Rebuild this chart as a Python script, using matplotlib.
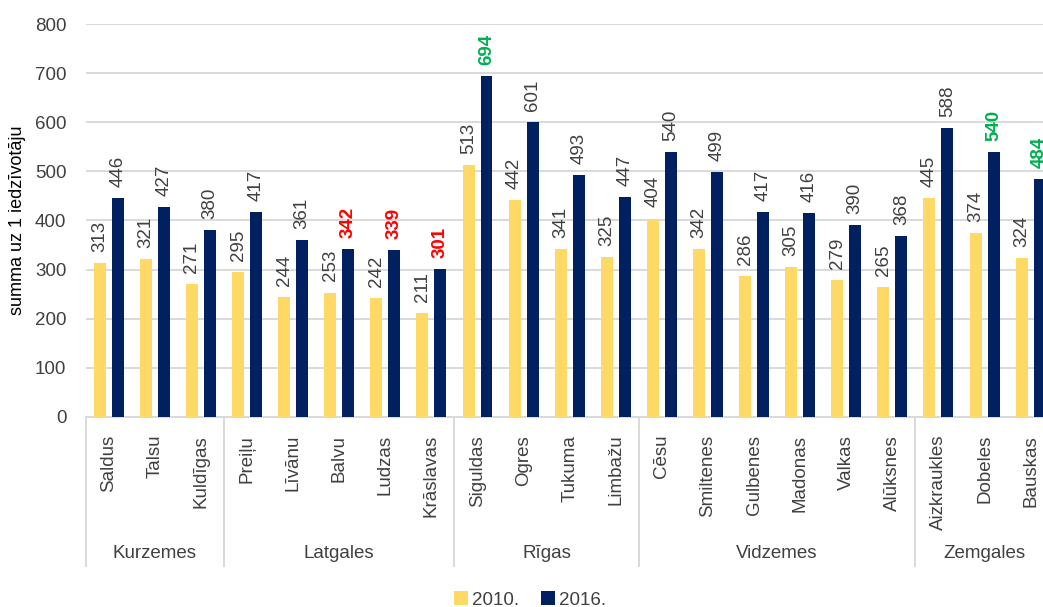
import matplotlib
matplotlib.use("Agg")
import matplotlib.pyplot as plt
import matplotlib.transforms as mtransforms
from matplotlib.patches import Patch
from matplotlib import font_manager

names = {f.name for f in font_manager.fontManager.ttflist}
fam = 'Liberation Sans Narrow' if 'Liberation Sans Narrow' in names else 'Liberation Sans'
narrow = fam == 'Liberation Sans Narrow'
plt.rcParams['font.family'] = [fam, 'DejaVu Sans']

categories = ["Saldus", "Talsu", "Kuldīgas", "Preiļu", "Līvānu", "Balvu", "Ludzas",
              "Krāslavas", "Siguldas", "Ogres", "Tukuma", "Limbažu", "Cēsu", "Smiltenes",
              "Gulbenes", "Madonas", "Valkas", "Alūksnes", "Aizkraukles", "Dobeles", "Bauskas"]
groups = ["Kurzemes", "Latgales", "Rīgas", "Vidzemes", "Zemgales"]
group_sizes = [3, 5, 4, 6, 3]
values_2010 = [313, 321, 271, 295, 244, 253, 242, 211, 513, 442, 341, 325, 404, 342,
               286, 305, 279, 265, 445, 374, 324]
values_2016 = [446, 427, 380, 417, 361, 342, 339, 301, 694, 601, 493, 447, 540, 499,
               417, 416, 390, 368, 588, 540, 484]
red_2016 = ["Balvu", "Ludzas", "Krāslavas"]
green_2016 = ["Siguldas", "Dobeles", "Bauskas"]
series_names = ["2010.", "2016."]
y_ticks = [0, 100, 200, 300, 400, 500, 600, 700, 800]
y_label = "summa uz 1 iedzīvotāju"

YELLOW = "#FFD966"
NAVY = "#002060"
TXT = "#404040"
GRID = "#D9D9D9"
FS = 15 if narrow else 13.5

fig = plt.figure(figsize=(10.43, 6.07), dpi=100)
ax = fig.add_axes([85.7 / 1043, 1 - 416.7 / 607, 968 / 1043, 392.4 / 607])

x = list(range(len(categories)))
off = 0.195
w = 0.26
ax.bar([i - off for i in x], values_2010, width=w, color=YELLOW, zorder=3)
ax.bar([i + off for i in x], values_2016, width=w, color=NAVY, zorder=3)

for i, (a, b) in enumerate(zip(values_2010, values_2016)):
    ax.annotate(str(a), (i - off, a), xytext=(0, 8), textcoords="offset points",
                rotation=90, ha="center", va="bottom", fontsize=FS, color=TXT)
    cat = categories[i]
    if cat in red_2016:
        col, wt = "#FF0000", "bold"
    elif cat in green_2016:
        col, wt = "#00B050", "bold"
    else:
        col, wt = TXT, "normal"
    ax.annotate(str(b), (i + off, b), xytext=(0, 8), textcoords="offset points",
                rotation=90, ha="center", va="bottom", fontsize=FS, color=col,
                fontweight=wt, annotation_clip=False)

ax.set_xlim(-0.5, len(categories) - 0.5)
ax.set_ylim(0, 800)
ax.set_yticks(y_ticks)
ax.set_yticklabels([str(t) for t in y_ticks], fontsize=FS, color=TXT)
ax.set_xticks(x)
ax.set_xticklabels(categories, rotation=90, fontsize=FS, color=TXT, va="top", ha="center")
ax.tick_params(axis="x", length=0, pad=13)
ax.tick_params(axis="y", length=0, pad=14)
ax.yaxis.grid(True, color=GRID, linewidth=1.4, zorder=0)
ax.set_axisbelow(True)
for s in ["top", "right", "left"]:
    ax.spines[s].set_visible(False)
ax.spines["bottom"].set_color(GRID)
ax.spines["bottom"].set_linewidth(1.4)
ax.set_ylabel(y_label, fontsize=FS - 0.5, color="#000000")
ax.yaxis.set_label_coords(-60 / 968, 0.5)

trans = mtransforms.blended_transform_factory(ax.transData, fig.transFigure)
y_top = 1 - 416.7 / 607
y_bot = 1 - 566 / 607
start = 0
bounds = [-0.5]
for g, n in zip(groups, group_sizes):
    center = start + (n - 1) / 2
    fig.text(center, 1 - 553 / 607, g, transform=trans, fontsize=FS, color=TXT,
             ha="center", va="center")
    start += n
    bounds.append(start - 0.5)
for b in bounds:
    ax.plot([b, b], [y_top, y_bot], transform=trans, color=GRID, linewidth=1.4,
            clip_on=False)

handles = [Patch(facecolor=YELLOW), Patch(facecolor=NAVY)]
fig.legend(handles, series_names, loc="center", bbox_to_anchor=(530 / 1043, 1 - 600 / 607),
           ncol=2, frameon=False, fontsize=FS, handlelength=0.75, handleheight=0.75,
           handletextpad=0.2, columnspacing=1.2, labelcolor=TXT)

fig.savefig("out.png", dpi=100)
